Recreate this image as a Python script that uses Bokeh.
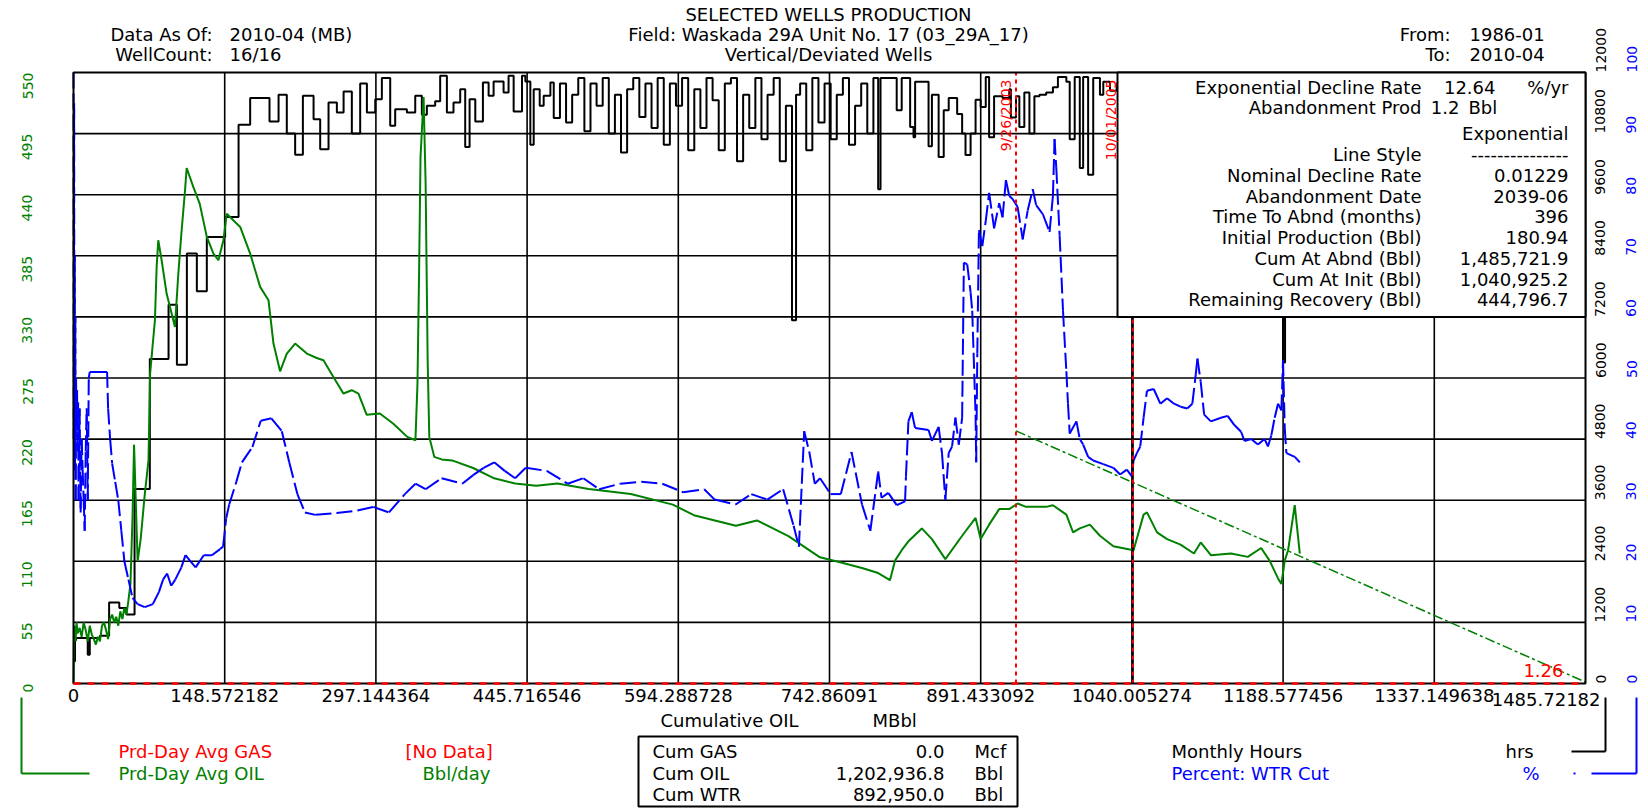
import math
from bokeh.plotting import figure
from bokeh.models import (Range1d, LinearAxis, FixedTicker, Label,
                          BoxAnnotation, Arrow, PolyAnnotation)
from bokeh.embed import file_html
from bokeh.resources import INLINE

# ---------------- data ----------------
oil_cum = [0, 0.5, 1, 2, 3, 4, 6, 8, 10, 12,
           14, 16, 18, 20, 22, 24, 26, 28, 30, 32,
           34, 36, 38, 40, 42, 44, 46, 48, 50, 52,
           54, 56, 58, 59.5, 61, 63, 66, 70, 73.7, 75.3,
           80, 81.7, 83.3, 86.6, 91.5, 99.7, 103, 106, 109.6, 111.2,
           117.7, 124, 131, 137.5, 142.4, 147.3, 150.6, 157, 163.8, 173.6,
           183.4, 191.6, 196.5, 203, 209.6, 217.8, 229.3, 239, 245.6, 255.4,
           265.2, 273.4, 280, 288, 301, 314, 328, 336, 338, 339.6,
           341, 344, 346, 348, 349.6, 354.5, 361.7, 372, 392.7, 413.4,
           434, 454.7, 475.4, 506.3, 547.6, 588.9, 609.6, 650.9, 671.5, 702.5,
           733.5, 754.2, 774.8, 790.7, 802.3, 807.2, 813.8, 820.4, 833.6, 843.5,
           856.7, 873.2, 886.4, 891.4, 899.7, 909.6, 919.5, 927.7, 936, 955.8,
           962.4, 975.6, 982.2, 988.8, 998.7, 1008.6, 1021.8, 1041.6, 1051.5, 1054.8,
           1064.7, 1074.6, 1087.8, 1101, 1107.6, 1117.6, 1137.4, 1153.9, 1167, 1175.3,
           1183.6, 1186.9, 1190.2, 1193.5, 1200, 1205]
oil_rate = [0, 40, 52, 38, 55, 45, 50, 42, 55, 48,
            38, 52, 44, 40, 35, 42, 38, 52, 55, 48,
            40, 58, 62, 55, 60, 52, 65, 58, 68, 62,
            75, 90, 150, 215, 170, 110, 130, 170, 201, 279,
            327, 375, 399, 381, 351, 321, 369, 405, 444, 464,
            447, 432, 402, 387, 381, 399, 423, 417, 411, 387,
            357, 345, 306, 281, 297, 306, 297, 293, 291, 276,
            261, 264, 261, 242, 243, 234, 222, 219, 270, 372,
            474, 528, 450, 291, 222, 204, 201.7, 200.8, 194, 184.7,
            180, 178, 180, 175, 170.5, 161, 151.5, 142, 146.8, 132.6,
            113.6, 109, 104, 99.4, 93, 110.6, 120, 128, 139.6, 130,
            112, 133, 149, 130, 143, 157, 157, 162, 159, 159,
            160.5, 152, 136, 139.6, 143, 133, 123.5, 120, 152, 154,
            136, 130, 125, 117, 127, 115.5, 117, 114, 122, 110.6,
            94.6, 89.7, 110.6, 120, 160.5, 117]

wtr_cum = [0, 0.3, 0.6, 0.9, 1.2, 1.5, 1.8, 2.1, 2.5, 3,
           3.5, 4, 4.5, 5, 6, 7, 8, 9, 10, 11,
           12, 13, 14, 15, 16, 24, 33, 34, 36, 38,
           41, 44, 47, 50, 54, 58, 63, 70, 78, 84,
           88, 92, 96, 100, 106, 110, 115, 120, 128, 136,
           144, 147, 150, 153, 160, 165.5, 175.8, 184, 194.4, 204.7,
           212, 220, 227.4, 237.8, 258.4, 279, 294.6, 310, 325.6, 336,
           346, 361.7, 382, 392.7, 403, 413.4, 423.7, 434, 444.4, 465,
           485.6, 501, 516.6, 537.2, 558, 578.6, 599, 619.8, 630, 650.6,
           666, 681.8, 697.3, 707.6, 712.8, 718, 723, 728.4, 733.6, 743.9,
           754, 764.5, 774.8, 783, 790.7, 794, 800.6, 808.9, 817.1, 818,
           820.4, 823.7, 827, 840.2, 843.5, 850.1, 853.4, 856.7, 860, 863.3,
           866.6, 869.9, 873.2, 874.9, 878.2, 881.5, 883.1, 886.4, 887, 888.1,
           889.7, 893, 896.4, 899.7, 904.6, 909.6, 912.9, 916.2, 919.5, 922.8,
           927.7, 932.7, 937.6, 942.6, 945.9, 952.5, 959.1, 962.4, 964, 965.7,
           969, 972.3, 975.6, 977.2, 978.9, 985.5, 988.8, 992.1, 997, 1002,
           1011.9, 1021.8, 1028.4, 1035, 1040, 1041.6, 1044.9, 1048.2, 1051.5, 1054.8,
           1061.4, 1068, 1074.6, 1081.3, 1087.8, 1094.4, 1099.4, 1102.7, 1104.4, 1107.6,
           1111, 1117.6, 1127.5, 1134.1, 1140.7, 1147.3, 1150.6, 1157.2, 1163.8, 1170.4,
           1173.7, 1177, 1180.3, 1183.6, 1186.9, 1188.5, 1190.2, 1191.8, 1200.1, 1205]
wtr_pct = [100, 40, 95, 45, 70, 35, 60, 30, 50, 42,
           48, 38, 46, 30, 45, 28, 40, 35, 30, 25,
           38, 45, 30, 50, 51, 51, 51, 45, 40, 36,
           33, 30, 25, 20, 17, 14, 13, 12.5, 13, 15,
           17, 18, 16, 17, 19, 21, 20, 19, 21, 21,
           22, 22.4, 27, 29.3, 33, 36.2, 38.7, 43, 43.4, 41.3,
           36.2, 31, 28, 27.6, 27.9, 28.3, 28.9, 28, 31, 32.7,
           31.8, 33.6, 32.7, 34.1, 35.3, 36.2, 34.8, 33.6, 35.3, 34.8,
           32.7, 33.6, 31.8, 32.7, 33, 32.7, 31.3, 31.8, 30.1, 29.3,
           31, 30.1, 31.8, 25.8, 22.4, 41.3, 37.9, 32.7, 33.6, 31,
           31, 37.9, 29.3, 25, 34.7, 30.4, 31.2, 29.2, 29.8, 33.9,
           42.9, 44.4, 41.8, 41.5, 39.7, 42, 37.7, 30.1, 37.7, 38.8,
           43.5, 39.1, 43.5, 68.9, 68.6, 64, 61, 44, 36.2, 54,
           74.2, 71.6, 75.7, 80.3, 74.5, 78.6, 76.3, 82.4, 79.8, 79.3,
           78, 72.7, 77.4, 80.9, 78.3, 76.8, 73.9, 79.8, 89.1, 84.4,
           73.3, 61, 51.1, 45.8, 40.9, 42.9, 40, 39.1, 37.1, 36.5,
           35.9, 35.3, 34.2, 35, 33.9, 36.5, 37.7, 38.8, 43.5, 47.9,
           48.2, 45.8, 46.7, 45.8, 45.3, 45, 45.8, 50.5, 53.2, 49.4,
           44, 42.9, 43.5, 43.8, 42.3, 41.2, 39.7, 40, 39.1, 40,
           38.8, 40.6, 43.5, 45.8, 44.7, 52.9, 41.8, 37.7, 37.1, 36.2]

hrs_cum = [0, 1.5, 2.5, 14, 16, 26, 35, 45, 52, 60,
           75, 93.4, 101.6, 111.4, 121.2, 131, 149, 162.2, 173.6, 192.6,
           201.5, 209.6, 217.8, 225.4, 235.9, 242.4, 250.6, 258.8, 265.4, 273.5,
           281.7, 288.3, 296.5, 303, 311.2, 316.1, 327.6, 335.8, 342.3, 347.2,
           355.4, 360.3, 366.9, 373.4, 380, 384.9, 389.2, 394.8, 402.3, 407.9,
           412.8, 422.6, 427.5, 432.5, 440.7, 444, 448.9, 452.2, 458.1, 462,
           468.6, 471.9, 478, 484, 490, 496, 502, 508, 514, 520,
           526, 532, 538, 544, 550, 556, 562, 568, 574, 580,
           586, 592, 598, 604, 610, 616, 622, 628, 634, 640,
           646, 652, 658, 664, 670, 676, 682, 688, 694, 700,
           706, 710, 714, 720, 726, 732, 738, 744, 750, 756,
           762, 768, 774, 780, 786, 790.7, 793, 808.9, 813.8, 822.1,
           825.4, 827, 840.2, 843.5, 850.1, 855.1, 860, 868.3, 873.2, 876.5,
           881.5, 886.4, 891.4, 896.4, 899.7, 904.6, 912.9, 919.5, 921.1, 926.1,
           929.4, 934.3, 939.3, 944.2, 949.2, 955.8, 962.4, 967.3, 975.6, 978.9,
           983.8, 988.8, 992.1, 997, 1002, 1008.6, 1011.9, 1018.5, 1025, 1035,
           1045, 1060, 1075, 1090, 1105, 1120, 1135, 1150, 1165, 1180,
           1188.5, 1190.5, 1198, 1205]
hrs_val = [436, 851, 895, 567, 895, 938, 1593, 1484, 1353, 3818,
           6371, 7440, 6262, 8444, 7702, 8771, 9164, 10975, 11498, 11040,
           11564, 10800, 10385, 11542, 11084, 10495, 11411, 11215, 11629, 10800,
           11782, 11215, 11476, 11891, 10953, 11280, 11215, 11542, 11171, 11345,
           11433, 11935, 11215, 11411, 11673, 10538, 11476, 11040, 11804, 11542,
           11825, 11607, 11935, 11236, 11935, 11825, 10582, 11673, 11345, 11542,
           11804, 11105, 11782, 11018, 11564, 11891, 10844, 11782, 11345, 11891,
           10800, 11564, 10429, 11673, 11891, 11127, 11782, 10909, 11891, 10582,
           11782, 11345, 11891, 10473, 11673, 10909, 11891, 11455, 10473, 11782,
           11891, 10255, 11564, 10909, 11891, 10691, 11564, 11891, 10255, 11345,
           7135, 11564, 11782, 10473, 11891, 11018, 11782, 10691, 11564, 11891,
           10582, 11345, 11782, 10800, 11891, 9709, 11891, 11258, 11891, 10931,
           10728, 11817, 10553, 11564, 10342, 11258, 11498, 11184, 10800, 10379,
           10800, 11465, 11324, 11913, 10728, 11535, 11498, 11673, 11114, 11535,
           10931, 11607, 10800, 11535, 11564, 11607, 11712, 11913, 11817, 10691,
           11913, 10124, 11913, 9993, 11891, 11564, 11817, 11642, 11782, 11345,
           11891, 11564, 11891, 11345, 11782, 11564, 11891, 11455, 11782, 11673,
           6305, 11564, 11782, 11782]

gas_cum = [0.0, 1485.72182]
gas_rate = [0.0, 0.0]

decline_cum = [926.1, 1040.925, 1485.72182]
decline_rate = [227.4, 180.94, 1.26]

event_cum = [926.1, 1040.925]
event_text = ["9/26/2003", "10/01/2005"]

x_ticks = [0, 148.572182, 297.144364, 445.716546, 594.288728, 742.86091,
           891.433092, 1040.005274, 1188.577456, 1337.149638]
x_tick_labels = ["0", "148.572182", "297.144364", "445.716546", "594.288728",
                 "742.86091", "891.433092", "1040.005274", "1188.577456", "1337.149638"]
x_last_label = "1485.72182"
oil_ticks = [0, 55, 110, 165, 220, 275, 330, 385, 440, 495, 550]
hrs_ticks = [0, 1200, 2400, 3600, 4800, 6000, 7200, 8400, 9600, 10800, 12000]
pct_ticks = [0, 10, 20, 30, 40, 50, 60, 70, 80, 90, 100]

info_names = ["Exponential Decline Rate", "Abandonment Prod", "", "Line Style",
              "Nominal Decline Rate", "Abandonment Date", "Time To Abnd (months)",
              "Initial Production (Bbl)", "Cum At Abnd (Bbl)", "Cum At Init (Bbl)",
              "Remaining Recovery (Bbl)"]
info_values = ["", "", "Exponential", "---------------", "0.01229", "2039-06", "396",
               "180.94", "1,485,721.9", "1,040,925.2", "444,796.7"]

cum_names = ["Cum GAS", "Cum OIL", "Cum WTR"]
cum_values = ["0.0", "1,202,936.8", "892,950.0"]
cum_units = ["Mcf", "Bbl", "Bbl"]

# ---------------- layout ----------------
GREEN = "#008000"
BLUE = "#0000ff"
RED = "#ff0000"
FONT = "DejaVu Sans"
FS = "18px"
AFS = "14px"

W, H = 1648, 808
FL, FR, FT, FB = 73, 1585, 72, 683       # plot rectangle in page pixels
XMAX, YMAX = 1485.72182, 550.0
KX = XMAX / (FR - FL)
KY = YMAX / (FB - FT)
x_lo, x_hi = -FL * KX, (W - FL) * KX
y_lo, y_hi = -(H - FB) * KY, YMAX + FT * KY


def X(cx):
    return (cx - FL) * KX


def Y(cy):
    return (FB - cy) * KY


p = figure(width=W, height=H, output_backend="svg", toolbar_location=None, tools="",
           title=None, x_axis_type=None, y_axis_type=None,
           x_range=Range1d(x_lo, x_hi), y_range=Range1d(y_lo, y_hi),
           min_border=0)
p.min_border_left = p.min_border_right = p.min_border_top = p.min_border_bottom = 0
p.background_fill_color = "white"
p.border_fill_color = "white"
p.outline_line_color = None
p.xgrid.visible = False
p.ygrid.visible = False

p.extra_y_ranges = {"hrs": Range1d(y_lo * 12000 / YMAX, y_hi * 12000 / YMAX),
                    "pct": Range1d(y_lo * 100 / YMAX, y_hi * 100 / YMAX)}


def style_axis(ax, color, standoff, size, vertical):
    ax.axis_line_color = None
    ax.major_tick_line_color = None
    ax.minor_tick_line_color = None
    ax.major_tick_out = 0
    ax.major_tick_in = 0
    ax.minor_tick_out = 0
    ax.minor_tick_in = 0
    ax.major_label_text_color = color
    ax.major_label_text_font = FONT
    ax.major_label_text_font_size = size
    ax.major_label_standoff = standoff
    if vertical:
        ax.major_label_orientation = math.pi / 2


# axes fixed onto the plot rectangle
xa = LinearAxis(fixed_location=0, ticker=FixedTicker(ticks=x_ticks))
xa.major_label_overrides = {t: s for t, s in zip(x_ticks, x_tick_labels)}
style_axis(xa, "black", 5, FS, False)
p.add_layout(xa, "below")

ya = LinearAxis(fixed_location=0, ticker=FixedTicker(ticks=oil_ticks))
style_axis(ya, GREEN, 46, AFS, True)
p.add_layout(ya, "left")

ax_h = LinearAxis(y_range_name="hrs", fixed_location=XMAX,
                  ticker=FixedTicker(ticks=hrs_ticks))
style_axis(ax_h, "black", 15, AFS, True)
p.add_layout(ax_h, "right")
ax_p = LinearAxis(y_range_name="pct", fixed_location=XMAX,
                  ticker=FixedTicker(ticks=pct_ticks))
style_axis(ax_p, BLUE, 46, AFS, True)
p.add_layout(ax_p, "right")

# grid lines inside the plot rectangle
p.segment(x0=x_ticks[1:], y0=[oil_ticks[0]] * (len(x_ticks) - 1),
          x1=x_ticks[1:], y1=[oil_ticks[-1]] * (len(x_ticks) - 1),
          line_color="black", line_width=1.6, level="underlay")
p.segment(x0=[x_ticks[0]] * (len(oil_ticks) - 2), y0=oil_ticks[1:-1],
          x1=[XMAX] * (len(oil_ticks) - 2), y1=oil_ticks[1:-1],
          line_color="black", line_width=1.6, level="underlay")

# ---------------- series ----------------
p.step(hrs_cum, hrs_val, mode="after", y_range_name="hrs",
       line_color="black", line_width=2)
p.line(oil_cum, oil_rate, line_color=GREEN, line_width=2)
p.segment(x0=wtr_cum[:-1], y0=wtr_pct[:-1], x1=wtr_cum[1:], y1=wtr_pct[1:],
          y_range_name="pct", line_color=BLUE, line_width=2, line_dash="16 5")
p.line(decline_cum, decline_rate, line_color=GREEN, line_width=1.5,
       line_dash="10 3 3 3")

# event lines
p.segment(x0=[event_cum[1]], y0=[0], x1=[event_cum[1]], y1=[YMAX],
          line_color="black", line_width=2)
p.segment(x0=event_cum, y0=[0, 0], x1=event_cum, y1=[YMAX, YMAX],
          line_color=RED, line_width=2, line_dash="4 4")

# plot rectangle border
p.add_layout(BoxAnnotation(left=0, right=XMAX, bottom=0, top=YMAX,
                           fill_alpha=0.0, line_color="black", line_width=2,
                           line_alpha=1.0))
p.line(gas_cum, gas_rate, line_color=RED, line_width=2.5, line_dash="7 7",
       level="overlay")

# info box
p.add_layout(BoxAnnotation(left=X(1117), right=XMAX, bottom=oil_ticks[6], top=YMAX,
                           fill_color="white", fill_alpha=1.0,
                           line_color="black", line_width=2, line_alpha=1.0))


def txt(cx, cy, s, color="black", align="left", size=FS, angle=0.0):
    p.add_layout(Label(x=X(cx), y=Y(cy), text=s, text_color=color,
                       text_align=align, text_baseline="middle",
                       text_font=FONT, text_font_size=size, angle=angle))


def seg(cx0, cy0, cx1, cy1, color, width=2, dash="solid"):
    p.add_layout(Arrow(end=None, x_start=X(cx0), y_start=Y(cy0),
                       x_end=X(cx1), y_end=Y(cy1), line_color=color,
                       line_width=width, line_dash=dash))


# event labels (vertical)
txt(1005, 79, event_text[0], RED, "right", "14px", math.pi / 2)
txt(1110, 79, event_text[1], RED, "right", "14px", math.pi / 2)

# info box texts
row_y = [87, 107, 133, 154, 174.5, 195.5, 216, 237, 258, 278.5, 299]
for name, val, ry in zip(info_names, info_values, row_y):
    if name:
        txt(1421, ry, name, align="right")
    if val:
        txt(1568, ry, val, align="right")
txt(1495, row_y[0], "12.64", align="right")
txt(1568, row_y[0], "%/yr", align="right")
txt(1459, row_y[1], "1.2", align="right")
txt(1468, row_y[1], "Bbl", align="left")

txt(1563, 670, "1.26", RED, "right")

# header
txt(828, 14, "SELECTED WELLS PRODUCTION", align="center")
txt(828, 34, "Field: Waskada 29A Unit No. 17 (03_29A_17)", align="center")
txt(828, 54, "Vertical/Deviated Wells", align="center")
txt(212, 34, "Data As Of:", align="right")
txt(229, 34, "2010-04 (MB)")
txt(212, 54, "WellCount:", align="right")
txt(229, 54, "16/16")
txt(1450, 34, "From:", align="right")
txt(1469, 34, "1986-01")
txt(1450, 54, "To:", align="right")
txt(1469, 54, "2010-04")

# bottom axis extras
txt(1600, 699, x_last_label, align="right")
txt(660, 720, "Cumulative OIL")
txt(872, 720, "MBbl")

# legend (left)
txt(118, 751, "Prd-Day Avg GAS", RED)
txt(405, 751, "[No Data]", RED)
txt(118, 773, "Prd-Day Avg OIL", GREEN)
txt(422, 773, "Bbl/day", GREEN)
seg(21, 697, 21, 773, GREEN)
seg(21, 773, 89, 773, GREEN)

# cum box
p.add_layout(PolyAnnotation(xs=[X(638), X(1017), X(1017), X(638)],
                            ys=[Y(736), Y(736), Y(806), Y(806)],
                            fill_alpha=0.0, line_color="black", line_width=2,
                            line_alpha=1.0))
for name, val, unit, ry in zip(cum_names, cum_values, cum_units, [751, 773, 794]):
    txt(652, ry, name)
    txt(944, ry, val, align="right")
    txt(974, ry, unit)

# legend (right)
txt(1171, 751, "Monthly Hours")
txt(1505, 751, "hrs")
txt(1171, 773, "Percent: WTR Cut", BLUE)
txt(1522, 773, "%", BLUE)
seg(1571, 751, 1605, 751, "black")
seg(1605, 697, 1605, 751, "black")
seg(1573, 773, 1636, 773, BLUE, 2, "2 16 45")
seg(1636, 697, 1636, 773, BLUE)

open("out.html", "w").write(file_html(p, INLINE))
